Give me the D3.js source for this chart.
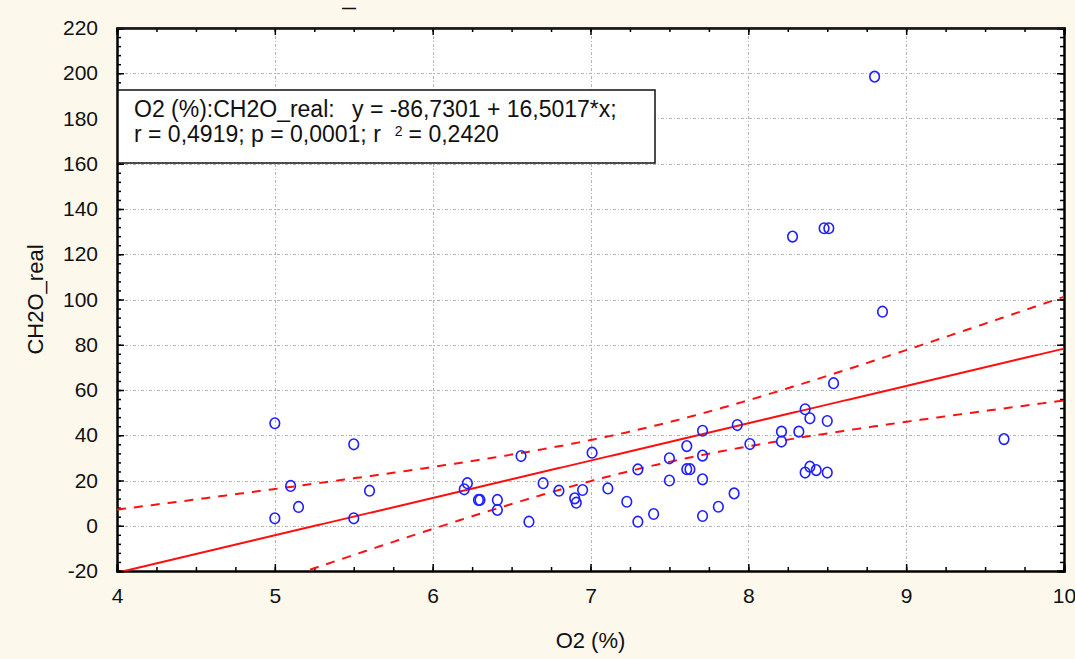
<!DOCTYPE html>
<html>
<head>
<meta charset="utf-8">
<script src="https://cdn.jsdelivr.net/npm/d3@7/dist/d3.min.js"></script>
<style>
  html, body { margin: 0; padding: 0; background: #fdf8ec; }
  svg { display: block; }
  text { font-family: "Liberation Sans", Arial, sans-serif; }
</style>
</head>
<body>
<svg id="chart" width="1075" height="659"></svg>
<script>
// ---- Data ----
const o2 = [5.00, 5.50, 5.10, 5.60, 5.15, 5.00, 5.50, 6.56, 7.01, 6.22, 6.20, 6.29, 6.30, 6.41, 6.41, 6.61,
            6.70, 6.80, 6.90, 6.91, 6.95, 7.11, 7.23, 7.30, 7.30, 7.40, 7.50, 7.50, 7.61, 7.61, 7.63, 7.71,
            7.71, 7.71, 7.71, 7.81, 7.91, 7.93, 8.01, 8.21, 8.21, 8.32, 8.36, 8.39, 8.50, 8.36, 8.39, 8.43,
            8.50, 8.54, 9.62, 8.28, 8.48, 8.51, 8.85, 8.80];
const ch2o = [45.3, 36.0, 17.6, 15.5, 8.3, 3.3, 3.3, 30.8, 32.3, 18.8, 16.1, 11.4, 11.4, 11.4, 7.0, 1.8,
              18.8, 15.5, 12.1, 10.2, 15.8, 16.5, 10.6, 24.9, 1.8, 5.2, 29.8, 20.0, 35.2, 25.0, 25.0, 42.0,
              31.0, 20.5, 4.3, 8.4, 14.3, 44.5, 36.1, 41.6, 37.2, 41.6, 51.5, 47.5, 46.3, 23.5, 26.1, 24.6,
              23.5, 63.0, 38.3, 127.8, 131.5, 131.5, 94.6, 198.5];
const fitCoef = [-86.7301, 16.5017];      // intercept, slope (from the chart's legend)
const tCrit = 2.005;                       // 95% two-sided t, df = n - 2
const xTicks = [4, 5, 6, 7, 8, 9, 10];
const yTicks = [-20, 0, 20, 40, 60, 80, 100, 120, 140, 160, 180, 200, 220];
const xDomain = [4, 10];
const yDomain = [-20, 220];
const legendLine1 = ["O2 (%):CH2O_real:", "y = -86,7301 + 16,5017*x;"];
const legendLine2 = ["r = 0,4919; p = 0,0001; r", "2", "= 0,2420"];
const xTitle = "O2 (%)";
const yTitle = "CH2O_real";
const topRemnant = "\u2014";

// ---- Layout ----
const svg = d3.select("#chart");
const L = 117, R = 1064, T = 28, B = 571;
const x = d3.scaleLinear().domain(xDomain).range([L, R]);
const y = d3.scaleLinear().domain(yDomain).range([B, T]);

svg.append("rect").attr("width", 1075).attr("height", 659).attr("fill", "#fdf8ec");
svg.append("rect").attr("x", L).attr("y", T).attr("width", R - L).attr("height", B - T).attr("fill", "#fff");

svg.append("defs").append("clipPath").attr("id", "clip")
  .append("rect").attr("x", L).attr("y", T).attr("width", R - L).attr("height", B - T);

// gridlines
const grid = svg.append("g").attr("stroke", "#b4b4b4").attr("stroke-width", 1).attr("stroke-dasharray", "3,2,1,2");
grid.selectAll("line.gx").data(xTicks.slice(1, -1)).join("line")
  .attr("x1", d => Math.round(x(d)) + 0.5).attr("x2", d => Math.round(x(d)) + 0.5).attr("y1", T).attr("y2", B);
grid.selectAll("line.gy").data(yTicks.slice(1, -1)).join("line")
  .attr("y1", d => Math.round(y(d)) + 0.5).attr("y2", d => Math.round(y(d)) + 0.5).attr("x1", L).attr("x2", R);

const xMinor = d3.range(xDomain[0], xDomain[1] + 1e-9, 0.25);
const yMinor = d3.range(yDomain[0], yDomain[1] + 1e-9, 4);
const fmt = d => String(d);

function axisStyle(g) {
  g.select(".domain").attr("stroke", "#000").attr("stroke-width", 2);
  g.selectAll(".tick line").attr("stroke", "#000").attr("stroke-width", 1.5);
  g.selectAll(".tick text").attr("font-size", 21).attr("fill", "#111");
}

svg.append("g").attr("transform", `translate(0,${B})`)
  .call(d3.axisBottom(x).tickValues(xMinor).tickSize(-4).tickFormat(""))
  .call(axisStyle);
svg.append("g").attr("transform", `translate(0,${B})`)
  .call(d3.axisBottom(x).tickValues(xTicks).tickSize(-7).tickPadding(17).tickFormat(fmt))
  .call(axisStyle);
svg.append("g").attr("transform", `translate(0,${T})`)
  .call(d3.axisTop(x).tickValues(xMinor).tickSize(-4).tickFormat(""))
  .call(axisStyle);
svg.append("g").attr("transform", `translate(0,${T})`)
  .call(d3.axisTop(x).tickValues(xTicks).tickSize(-7).tickFormat(""))
  .call(axisStyle);
svg.append("g").attr("transform", `translate(${L},0)`)
  .call(d3.axisLeft(y).tickValues(yMinor).tickSize(-4).tickFormat(""))
  .call(axisStyle);
svg.append("g").attr("transform", `translate(${L},0)`)
  .call(d3.axisLeft(y).tickValues(yTicks).tickSize(-7).tickPadding(19).tickFormat(fmt))
  .call(axisStyle);
svg.append("g").attr("transform", `translate(${R},0)`)
  .call(d3.axisRight(y).tickValues(yMinor).tickSize(-4).tickFormat(""))
  .call(axisStyle);
svg.append("g").attr("transform", `translate(${R},0)`)
  .call(d3.axisRight(y).tickValues(yTicks).tickSize(-7).tickFormat(""))
  .call(axisStyle);
svg.selectAll(".tick text").attr("font-family", "'Liberation Sans', Arial, sans-serif");

// regression line and 95% confidence band
const n = o2.length;
const xMean = d3.mean(o2);
const Sxx = d3.sum(o2, v => (v - xMean) ** 2);
const pred = v => fitCoef[0] + fitCoef[1] * v;
const sRes = Math.sqrt(d3.sum(o2, (v, i) => (ch2o[i] - pred(v)) ** 2) / (n - 2));
const halfW = v => tCrit * sRes * Math.sqrt(1 / n + (v - xMean) ** 2 / Sxx);
const xs = d3.range(xDomain[0], xDomain[1] + 1e-9, 0.02);

const plotG = svg.append("g").attr("clip-path", "url(#clip)");
const lineGen = f => d3.line().x(v => x(v)).y(v => y(f(v)));
plotG.append("path").datum(xs).attr("d", lineGen(pred))
  .attr("fill", "none").attr("stroke", "#ff1010").attr("stroke-width", 2);
plotG.append("path").datum(xs).attr("d", lineGen(v => pred(v) + halfW(v)))
  .attr("fill", "none").attr("stroke", "#ff1010").attr("stroke-width", 2).attr("stroke-dasharray", "9,8");
plotG.append("path").datum(xs).attr("d", lineGen(v => pred(v) - halfW(v)))
  .attr("fill", "none").attr("stroke", "#ff1010").attr("stroke-width", 2).attr("stroke-dasharray", "9,8");

plotG.selectAll("ellipse.pt").data(o2).join("ellipse")
  .attr("cx", d => x(d)).attr("cy", (d, i) => y(ch2o[i]))
  .attr("rx", 4.8).attr("ry", 5.3)
  .attr("fill", "none").attr("stroke", "#1f1fff").attr("stroke-width", 1.6);

svg.append("line").attr("x1", L).attr("x2", R).attr("y1", T).attr("y2", T).attr("stroke", "#222").attr("stroke-width", 1.5);

// legend box
const lg = svg.append("g");
lg.append("rect").attr("x", 118).attr("y", 90).attr("width", 537).attr("height", 73)
  .attr("fill", "#fff").attr("stroke", "#111").attr("stroke-width", 1.5);
const t1 = lg.append("text").attr("y", 117).attr("font-size", 23).attr("fill", "#111");
t1.append("tspan").attr("x", 134).text(legendLine1[0]);
t1.append("tspan").attr("x", 352).text(legendLine1[1]);
const t2 = lg.append("text").attr("y", 142).attr("font-size", 23).attr("fill", "#111");
t2.append("tspan").attr("x", 134).text(legendLine2[0]);
t2.append("tspan").attr("dx", 14).attr("dy", -6).attr("font-size", 14).text(legendLine2[1]);
t2.append("tspan").attr("dx", 6).attr("dy", 6).attr("font-size", 23).text(legendLine2[2]);

// remnant of a clipped title at the very top
svg.append("text").attr("x", 342).attr("y", 13).attr("font-size", 14).attr("font-weight", "bold")
  .attr("fill", "#111").text(topRemnant);

// axis titles
svg.append("text").attr("x", (L + R) / 2).attr("y", 648).attr("text-anchor", "middle")
  .attr("font-size", 22).attr("fill", "#111").text(xTitle);
svg.append("text").attr("transform", `translate(43,${(T + B) / 2}) rotate(-90)`).attr("text-anchor", "middle")
  .attr("font-size", 22).attr("fill", "#111").text(yTitle);
</script>
</body>
</html>
